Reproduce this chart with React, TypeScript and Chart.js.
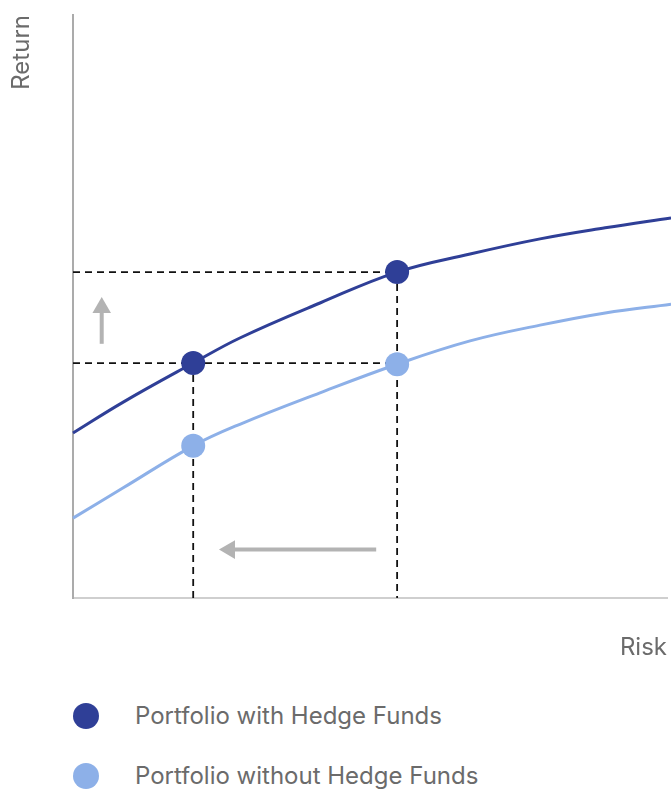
import React, { useEffect, useRef } from "react";
import { Chart, registerables } from "chart.js";

Chart.register(...registerables);

// Risk (x) and Return (y) in arbitrary 0-100 units
const riskSamples = [0, 8.4, 20.1, 27.9, 41.3, 54.2, 66.4, 78.1, 89.0, 100];
const withHedgeReturn = [28.3, 33.6, 40.3, 44.6, 50.6, 55.9, 59.0, 61.6, 63.5, 65.2];
const withoutHedgeReturn = [13.7, 18.9, 26.1, 29.8, 35.2, 40.1, 44.1, 46.8, 48.9, 50.4];

const markerRisk = [20.1, 54.2];
const withHedgeMarkers = [40.3, 55.9];
const withoutHedgeMarkers = [26.1, 40.1];

const seriesLabels = ["Portfolio with Hedge Funds", "Portfolio without Hedge Funds"];
const xTitle = "Risk";
const yTitle = "Return";

// arrows: [x, y] from shaft start to head centre
const upArrow = [[4.8, 43.6], [4.8, 49.8]];
const leftArrow = [[50.7, 8.3], [26.2, 8.3]];

const DARK = "#2f3f97";
const LIGHT = "#8db0e8";
const GREY_ARROW = "#b3b3b3";
const TEXT = "#6b6b6b";

const toPts = (xs: number[], ys: number[]) => xs.map((x, i) => ({ x, y: ys[i] }));

export default function App() {
  const ref = useRef<HTMLCanvasElement | null>(null);

  useEffect(() => {
    document.body.style.margin = "0";
    const canvas = ref.current;
    if (!canvas) return;
    const dashStyle = {
      type: "line" as const,
      borderColor: "#111",
      borderWidth: 1.8,
      borderDash: [7, 5],
      pointRadius: 0,
      tension: 0,
      fill: false,
      order: 10,
    };
    const arrowStyle = (rot: number) => ({
      type: "line" as const,
      borderColor: GREY_ARROW,
      borderWidth: 4,
      pointRadius: [0, 10.7],
      pointStyle: "triangle" as const,
      pointRotation: rot,
      pointBackgroundColor: GREY_ARROW,
      pointBorderWidth: 0,
      tension: 0,
      fill: false,
      order: 10,
    });
    const curveClip = { left: 2, top: 2, right: 5, bottom: 2 };
    const chart = new Chart(canvas, {
      type: "scatter",
      data: {
        datasets: [
          {
            label: seriesLabels[0] + " markers",
            data: toPts(markerRisk, withHedgeMarkers),
            backgroundColor: DARK,
            borderWidth: 0,
            pointRadius: 12,
            order: 0,
          },
          {
            label: seriesLabels[1] + " markers",
            data: toPts(markerRisk, withoutHedgeMarkers),
            backgroundColor: LIGHT,
            borderWidth: 0,
            pointRadius: 12,
            order: 0,
          },
          {
            type: "line",
            label: seriesLabels[0],
            data: toPts(riskSamples, withHedgeReturn),
            borderColor: DARK,
            borderWidth: 3,
            pointRadius: 0,
            tension: 0.4,
            fill: false,
            clip: curveClip,
            order: 1,
          },
          {
            type: "line",
            label: seriesLabels[1],
            data: toPts(riskSamples, withoutHedgeReturn),
            borderColor: LIGHT,
            borderWidth: 3,
            pointRadius: 0,
            tension: 0.4,
            fill: false,
            clip: curveClip,
            order: 1,
          },
          {
            ...dashStyle,
            label: "dashA",
            data: [
              { x: 0, y: withHedgeMarkers[1] },
              { x: markerRisk[1], y: withHedgeMarkers[1] },
              { x: markerRisk[1], y: 0 },
            ],
          },
          {
            ...dashStyle,
            label: "dashB",
            data: [
              { x: 0, y: withHedgeMarkers[0] },
              { x: markerRisk[1], y: withHedgeMarkers[0] },
            ],
          },
          {
            ...dashStyle,
            label: "dashC",
            data: [
              { x: markerRisk[0], y: withHedgeMarkers[0] },
              { x: markerRisk[0], y: 0 },
            ],
          },
          {
            ...arrowStyle(0),
            label: "up",
            data: upArrow.map(([x, y]) => ({ x, y })),
          },
          {
            ...arrowStyle(-90),
            label: "left",
            data: leftArrow.map(([x, y]) => ({ x, y })),
          },
        ] as any,
      },
      options: {
        animation: false,
        responsive: false,
        events: [],
        layout: { autoPadding: false, padding: { top: 15, right: 4, left: 0, bottom: 0 } },
        plugins: { legend: { display: false }, tooltip: { enabled: false } },
        scales: {
          x: {
            type: "linear",
            min: 0,
            max: 99.33,
            grid: { display: false },
            ticks: { display: false },
            border: { display: true, color: "#cfcfcf", width: 2 },
            title: {
              display: true,
              text: xTitle,
              align: "end",
              color: TEXT,
              font: { family: "Inter", size: 24, weight: "normal" },
              padding: { top: 0, bottom: 18 },
            },
            afterFit: (s: any) => {
              s.height = 82;
            },
          },
          y: {
            type: "linear",
            min: 0,
            max: 100,
            grid: { display: false },
            ticks: { display: false },
            border: { display: true, color: "#ababab", width: 2 },
            title: {
              display: true,
              text: yTitle,
              align: "end",
              color: TEXT,
              font: { family: "Inter", size: 24, weight: "normal" },
              padding: { top: 7, bottom: 0 },
            },
            afterFit: (s: any) => {
              s.width = 73;
            },
          },
        },
      } as any,
    });
    return () => chart.destroy();
  }, []);

  const legendRow = (label: string, color: string, cy: number) => (
    <div
      key={label}
      style={{ position: "absolute", left: 0, top: cy - 12, height: 24, width: 671 }}
    >
      <span
        style={{
          position: "absolute",
          left: 73,
          top: -1,
          width: 26,
          height: 26,
          borderRadius: "50%",
          background: color,
        }}
      />
      <span
        style={{
          position: "absolute",
          left: 135,
          top: 0,
          fontFamily: "Inter",
          fontSize: 24,
          lineHeight: "24px",
          color: TEXT,
          whiteSpace: "nowrap",
        }}
      >
        {label}
      </span>
    </div>
  );

  return (
    <div style={{ position: "relative", width: 671, height: 791, background: "#fff" }}>
      <canvas ref={ref} width={671} height={680} style={{ position: "absolute", left: 0, top: 0 }} />
      {legendRow(seriesLabels[0], DARK, 716)}
      {legendRow(seriesLabels[1], LIGHT, 776)}
    </div>
  );
}
